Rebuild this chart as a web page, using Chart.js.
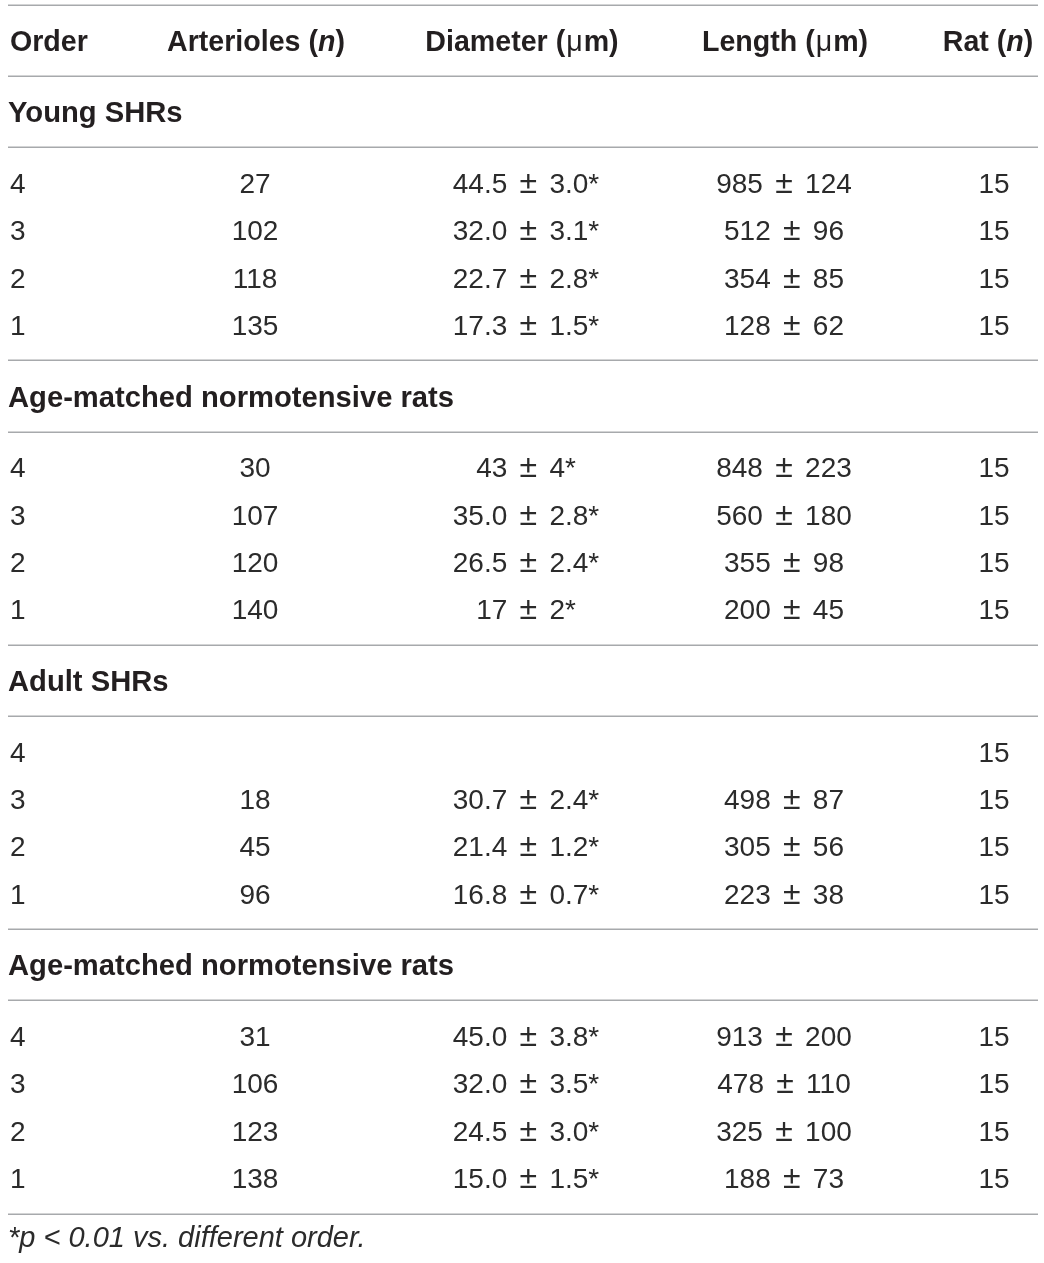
<!DOCTYPE html>
<html>
<head>
<meta charset="utf-8">
<script src="https://cdn.jsdelivr.net/npm/chart.js@4.4.1/dist/chart.umd.min.js"></script>
<style>
html,body{margin:0;padding:0;background:#fff;}
#wrap{width:1044px;height:1263px;position:relative;}
</style>
</head>
<body>
<div id="wrap"><canvas id="c"></canvas></div>
<script>
// ---- data ----
const headers = ['Order', 'Arterioles (n)', 'Diameter (μm)', 'Length (μm)', 'Rat (n)'];
const orders = ['4', '3', '2', '1'];
const groups = ['Young SHRs', 'Age-matched normotensive rats', 'Adult SHRs', 'Age-matched normotensive rats'];
const arterioles = [[27, 102, 118, 135], [30, 107, 120, 140], [null, 18, 45, 96], [31, 106, 123, 138]];
const diamMean = [['44.5', '32.0', '22.7', '17.3'], ['43', '35.0', '26.5', '17'], [null, '30.7', '21.4', '16.8'], ['45.0', '32.0', '24.5', '15.0']];
const diamSD = [['3.0', '3.1', '2.8', '1.5'], ['4', '2.8', '2.4', '2'], [null, '2.4', '1.2', '0.7'], ['3.8', '3.5', '3.0', '1.5']];
const lenMean = [[985, 512, 354, 128], [848, 560, 355, 200], [null, 498, 305, 223], [913, 478, 325, 188]];
const lenSD = [[124, 96, 85, 62], [223, 180, 98, 45], [null, 87, 56, 38], [200, 110, 100, 73]];
const ratN = [[15, 15, 15, 15], [15, 15, 15, 15], [15, 15, 15, 15], [15, 15, 15, 15]];
const footnote = '*p < 0.01 vs. different order.';

// ---- layout (not data) ----
const colX = [10, 255, 526, 784, 994];
const headX = [10, 256, 522, 785, 988];
const FONT = '"Liberation Sans", Arial, Helvetica, sans-serif';
const SIZE = 28;
const PMSIZE = 32;
const PMGAP = 4.5;
const HSIZE = 28.6;
const LSIZE = 29.2;
const FSIZE = 29;
const TXT = '#231f20';
const BODY = '#2b2b2b';
const headerRow = 1.5;
const ruleRows = [0, 3];
groups.forEach((g, i) => { ruleRows.push(3 + 12 * i + 3, 3 + 12 * (i + 1)); });
const labelRow = i => 3 + 12 * i + 1.5;
const dataRow = (i, j) => 3 + 12 * i + 4.5 + 2 * j;
const footRow = 51.95;

const headerSegs = [
  [['Order', 'bold']],
  [['Arterioles (', 'bold'], ['n', 'italic bold'], [')', 'bold']],
  [['Diameter (', 'bold'], ['\u03bc', 'normal', 1], ['m)', 'bold']],
  [['Length (', 'bold'], ['\u03bc', 'normal', 1], ['m)', 'bold']],
  [['Rat (', 'bold'], ['n', 'italic bold'], [')', 'bold']]
];

// a body cell: list of [text, fontSize, extraGap]
function cellSegs(col, i, j) {
  switch (col) {
    case 0: return [[orders[j], SIZE, 0]];
    case 1: return arterioles[i][j] == null ? [] : [[String(arterioles[i][j]), SIZE, 0]];
    case 2: return diamMean[i][j] == null ? [] : [[diamMean[i][j] + ' ', SIZE, 0], ['\u00b1', PMSIZE, PMGAP], [' ' + diamSD[i][j] + '*', SIZE, 0]];
    case 3: return lenMean[i][j] == null ? [] : [[lenMean[i][j] + ' ', SIZE, 0], ['\u00b1', PMSIZE, PMGAP], [' ' + lenSD[i][j], SIZE, 0]];
    case 4: return [[String(ratN[i][j]), SIZE, 0]];
  }
}

const datasets = [];
datasets.push({ kind: 'header', data: headers.map((h, k) => ({ x: headX[k], y: headerRow, segs: headerSegs[k], align: k === 0 ? 'left' : 'center' })) });
datasets.push({ kind: 'label', data: groups.map((g, i) => ({ x: colX[0] - 2, y: labelRow(i), t: g })) });
for (let c = 0; c < 5; c++) {
  const pts = [];
  groups.forEach((g, i) => orders.forEach((o, j) => {
    pts.push({ x: colX[c], y: dataRow(i, j), segs: cellSegs(c, i, j) });
  }));
  datasets.push({ kind: 'body', align: c === 0 ? 'left' : 'center', data: pts });
}
datasets.push({ kind: 'foot', data: [{ x: colX[0] - 2, y: footRow, t: footnote }] });
datasets.forEach(d => { d.pointRadius = 0; d.pointHoverRadius = 0; d.showLine = false; });

const tablePlugin = {
  id: 'tablePlugin',
  afterDatasetsDraw(chart) {
    const ctx = chart.ctx;
    const xs = chart.scales.x, ys = chart.scales.y;
    ctx.save();
    ctx.strokeStyle = '#a7a9ac';
    ctx.lineWidth = 1.5;
    const x0 = xs.getPixelForValue(8), x1 = xs.getPixelForValue(1038);
    ruleRows.forEach(r => {
      const y = Math.round(ys.getPixelForValue(r)) + 0.25;
      ctx.beginPath(); ctx.moveTo(x0, y); ctx.lineTo(x1, y); ctx.stroke();
    });
    ctx.textBaseline = 'alphabetic';
    chart.data.datasets.forEach((ds, di) => {
      const meta = chart.getDatasetMeta(di);
      meta.data.forEach((el, k) => {
        const p = ds.data[k];
        if (ds.kind === 'header') {
          ctx.fillStyle = TXT;
          const y = el.y + HSIZE * 0.36;
          let total = 0;
          const widths = p.segs.map(s => { ctx.font = s[1] + ' ' + HSIZE + 'px ' + FONT; const w = ctx.measureText(s[0]).width + (s[2] ? 2 : 0); total += w; return w; });
          let x = p.align === 'left' ? el.x : el.x - total / 2;
          ctx.textAlign = 'left';
          p.segs.forEach((s, si) => {
            ctx.font = s[1] + ' ' + HSIZE + 'px ' + FONT;
            ctx.fillText(s[0], x + (s[2] ? 1 : 0), y);
            x += widths[si];
          });
        } else if (ds.kind === 'label') {
          ctx.fillStyle = TXT;
          ctx.font = 'bold ' + LSIZE + 'px ' + FONT;
          ctx.textAlign = 'left';
          ctx.fillText(p.t, el.x, el.y + LSIZE * 0.36);
        } else if (ds.kind === 'body') {
          ctx.fillStyle = BODY;
          ctx.textAlign = 'left';
          const y = el.y + SIZE * 0.36;
          let total = 0;
          const widths = p.segs.map(s => { ctx.font = s[1] + 'px ' + FONT; const w = ctx.measureText(s[0]).width + 2 * s[2]; total += w; return w; });
          let x = ds.align === 'left' ? el.x : el.x - total / 2;
          p.segs.forEach((s, si) => {
            ctx.font = s[1] + 'px ' + FONT;
            ctx.fillText(s[0], x + s[2], y);
            x += widths[si];
          });
        } else if (ds.kind === 'foot') {
          ctx.fillStyle = BODY;
          ctx.font = 'italic ' + FSIZE + 'px ' + FONT;
          ctx.textAlign = 'left';
          ctx.fillText(p.t, el.x, el.y + FSIZE * 0.36);
        }
      });
    });
    ctx.restore();
  }
};

new Chart(document.getElementById('c'), {
  type: 'scatter',
  data: { datasets },
  options: {
    responsive: true,
    maintainAspectRatio: false,
    animation: false,
    layout: { padding: 0 },
    plugins: { legend: { display: false }, tooltip: { enabled: false } },
    events: [],
    scales: {
      x: { type: 'linear', display: false, min: 0, max: 1044 },
      y: { type: 'linear', display: false, reverse: true, min: -5 / 23.7, max: 1258 / 23.7 }
    }
  },
  plugins: [tablePlugin]
});
</script>
</body>
</html>
